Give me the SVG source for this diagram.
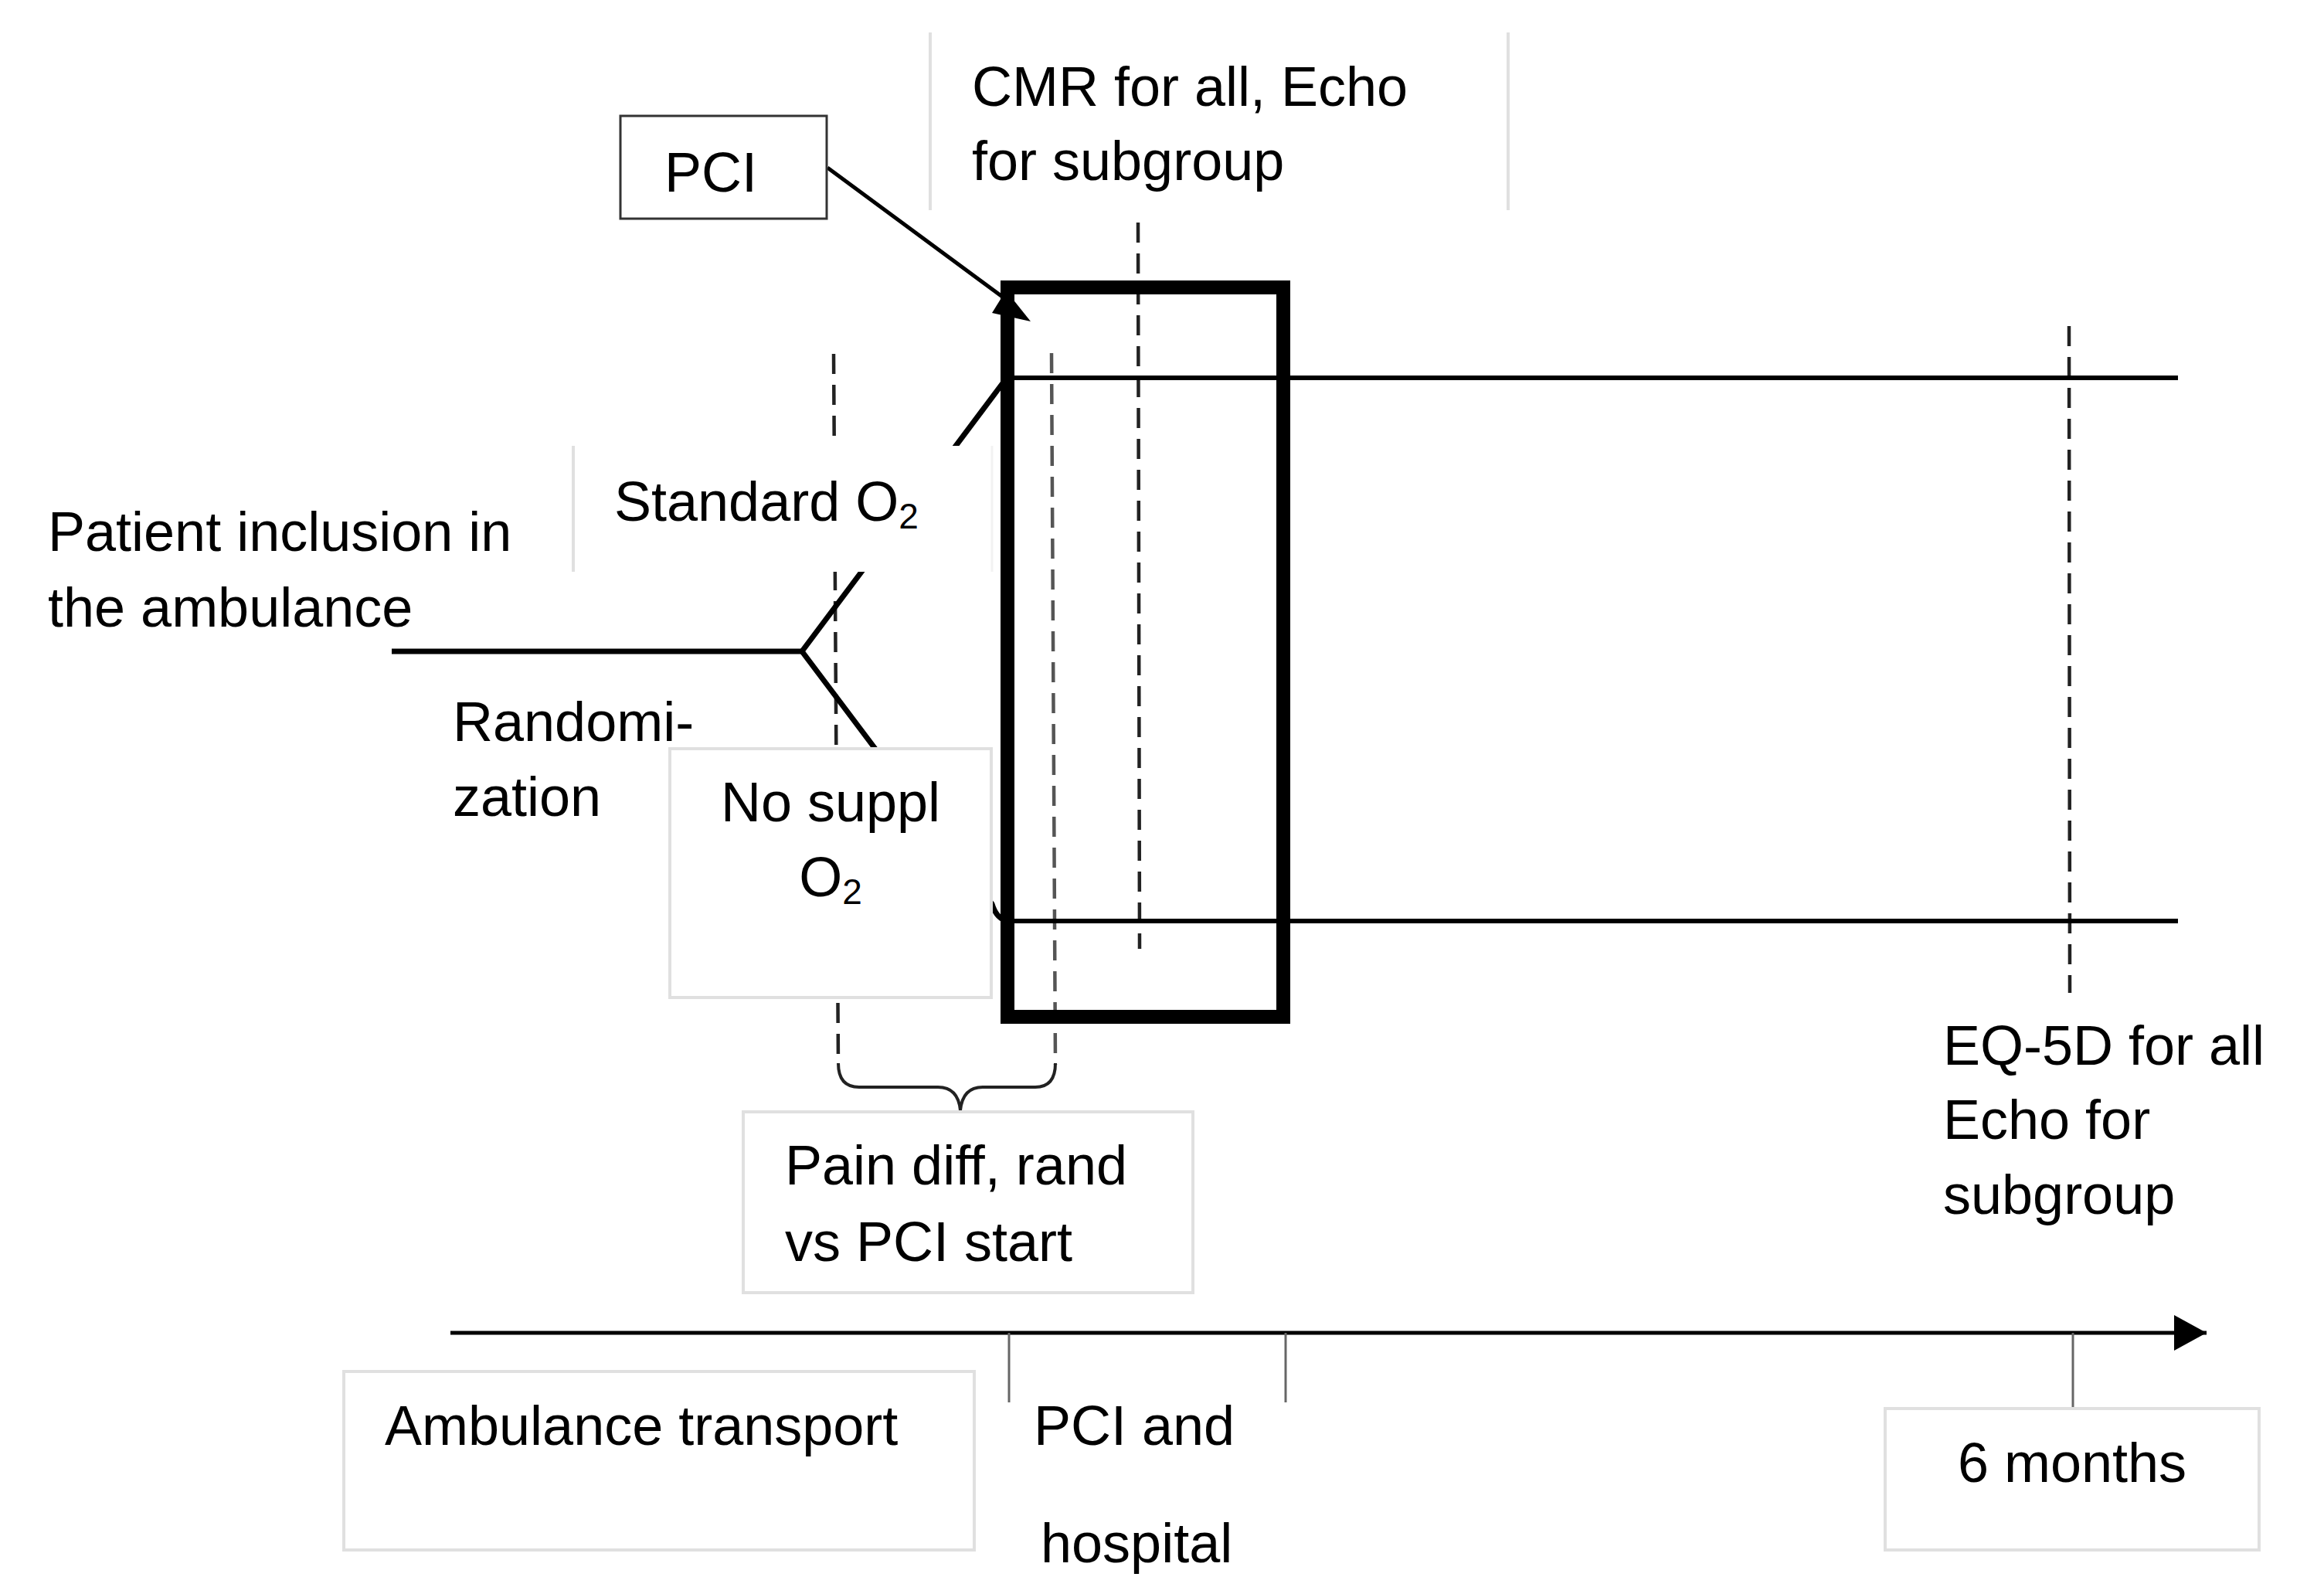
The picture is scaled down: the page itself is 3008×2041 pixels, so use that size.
<svg xmlns="http://www.w3.org/2000/svg" width="3008" height="2041" viewBox="0 0 3008 2041">
<style>
.t{font-family:"Liberation Sans",Arial,sans-serif;font-size:72px;fill:#000}
.sub{font-size:46px}
.box{fill:#fff;stroke:#e0e0e0;stroke-width:4}
.edge{stroke:#e0e0e0;stroke-width:4}
.dash{stroke:#222;stroke-width:4.5;stroke-dasharray:26 14;fill:none}
.flow{stroke:#000;stroke-width:7;fill:none}
.arm{stroke:#000;stroke-width:6;fill:none}
.tick{stroke:#666;stroke-width:3}
</style>
<defs>
<marker id="axisHead" markerUnits="userSpaceOnUse" markerWidth="44" markerHeight="46" refX="42" refY="23" orient="auto">
<path d="M0,0 L42,23 L0,46 Z" fill="#000"/>
</marker>
</defs>
<rect width="3008" height="2041" fill="#fff"/>

<g id="connectors">
<line class="dash" x1="1079" y1="458" x2="1085" y2="1378"/>
<line class="dash" x1="1361" y1="457" x2="1366" y2="1378" style="stroke:#555"/>
<line class="dash" x1="1473" y1="288" x2="1475" y2="1228"/>
<line class="dash" x1="2678" y1="422" x2="2679" y2="1285"/>
<path d="M1085,1376 Q1085,1407 1112,1407 L1214,1407 Q1240,1407 1243,1437 Q1246,1407 1272,1407 L1340,1407 Q1366,1407 1366,1376" fill="none" stroke="#222" stroke-width="4"/>
<line class="flow" x1="507" y1="843" x2="1038" y2="843"/>
<path class="flow" d="M1303,489 L1038,843 L1284,1170 Q1290,1190 1305,1192"/>
<line class="arm" x1="1303" y1="489" x2="2819" y2="489"/>
<line class="arm" x1="1303" y1="1192" x2="2819" y2="1192"/>
<line x1="1071" y1="217" x2="1300" y2="386" stroke="#000" stroke-width="5"/>
<polygon points="1284,405 1334,416 1302,376" fill="#000"/>
<line x1="583" y1="1725" x2="2856" y2="1725" stroke="#000" stroke-width="5" marker-end="url(#axisHead)"/>
<line class="tick" x1="1306" y1="1725" x2="1306" y2="1815"/>
<line class="tick" x1="1664" y1="1725" x2="1664" y2="1815"/>
<line class="tick" x1="2683" y1="1725" x2="2683" y2="1823"/>
</g>

<g id="pci-hospital-window">
<rect x="1304" y="372" width="357" height="944" fill="none" stroke="#000" stroke-width="18"/>
</g>

<g id="pci">
<rect x="803" y="150" width="267" height="133" fill="#fff" stroke="#333" stroke-width="3"/>
<text class="t" x="860" y="248">PCI</text>
</g>

<g id="cmr">
<line class="edge" x1="1204" y1="42" x2="1204" y2="272"/>
<line class="edge" x1="1952" y1="42" x2="1952" y2="272"/>
<text class="t" x="1258" y="137">CMR for all, Echo</text>
<text class="t" x="1258" y="233">for subgroup</text>
</g>

<g id="patient-inclusion">
<text class="t" x="62" y="713">Patient inclusion in</text>
<text class="t" x="62" y="811">the ambulance</text>
</g>

<g id="standard-o2">
<rect x="742" y="577" width="542" height="163" fill="#fff"/>
<line class="edge" x1="742" y1="577" x2="742" y2="740"/>
<line x1="1284" y1="577" x2="1284" y2="740" stroke="#f2f2f2" stroke-width="3"/>
<text class="t" x="795" y="674">Standard O<tspan class="sub" dy="10">2</tspan></text>
</g>

<g id="randomization">
<text class="t" x="586" y="959">Randomi-</text>
<text class="t" x="586" y="1056">zation</text>
</g>

<g id="no-suppl-o2">
<rect class="box" x="867" y="969" width="416" height="322"/>
<text class="t" x="1075" y="1063" text-anchor="middle">No suppl</text>
<text class="t" x="1075" y="1160" text-anchor="middle">O<tspan class="sub" dy="10">2</tspan></text>
</g>

<g id="pain-diff">
<rect class="box" x="962" y="1439" width="582" height="234"/>
<text class="t" x="1016" y="1533">Pain diff, rand</text>
<text class="t" x="1016" y="1632">vs PCI start</text>
</g>

<g id="eq5d">
<text class="t" x="2515" y="1378">EQ-5D for all</text>
<text class="t" x="2515" y="1474">Echo for</text>
<text class="t" x="2515" y="1571">subgroup</text>
</g>

<g id="ambulance-transport">
<rect class="box" x="445" y="1775" width="816" height="231"/>
<text class="t" x="498" y="1870">Ambulance transport</text>
</g>

<g id="pci-and-hospital">
<text class="t" x="1338" y="1870">PCI and</text>
<text class="t" x="1347" y="2022">hospital</text>
</g>

<g id="six-months">
<rect class="box" x="2440" y="1823" width="484" height="183"/>
<text class="t" x="2682" y="1918" text-anchor="middle">6 months</text>
</g>
</svg>
